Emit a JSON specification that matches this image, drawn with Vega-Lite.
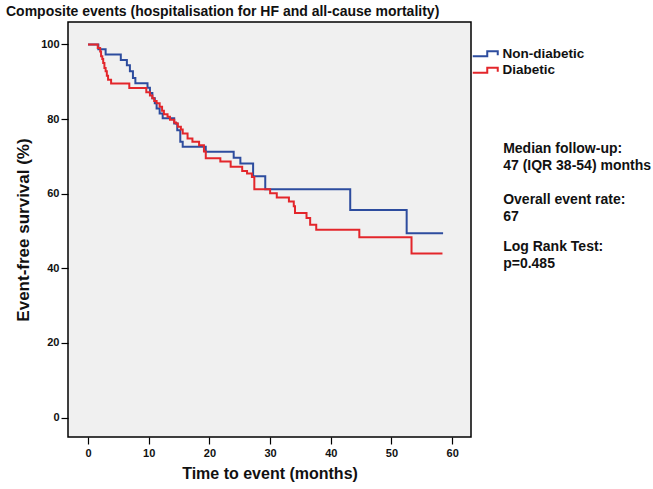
{
  "$schema": "https://vega.github.io/schema/vega-lite/v6.json",
  "width": 403,
  "height": 415,
  "autosize": {"type": "none"},
  "padding": {"left": 68, "top": 22, "right": 182, "bottom": 52},
  "background": "white",
  "title": {
    "text": "Composite events (hospitalisation for HF and all-cause mortality)",
    "anchor": "start",
    "frame": "group",
    "dx": -62,
    "offset": 6,
    "dy": 14,
    "baseline": "alphabetic",
    "font": "Liberation Sans",
    "fontSize": 14,
    "fontWeight": "bold",
    "color": "#111111"
  },
  "config": {
    "view": {"fill": "#f0f0f0", "stroke": "#000000", "strokeWidth": 1.5},
    "axis": {
      "domain": false,
      "grid": false,
      "tickSize": 7,
      "tickColor": "#000000",
      "tickWidth": 1.2,
      "labelFont": "Liberation Sans",
      "labelFontSize": 11,
      "labelFontWeight": "bold",
      "labelColor": "#111111",
      "titleFont": "Liberation Sans",
      "titleFontWeight": "bold",
      "titleColor": "#111111"
    }
  },
  "layer": [
    {
      "data": {
        "values": [
          {"group": "Non-diabetic", "time": 0, "survival": 100},
          {"group": "Non-diabetic", "time": 1.7, "survival": 98.7},
          {"group": "Non-diabetic", "time": 2.9, "survival": 97.3},
          {"group": "Non-diabetic", "time": 5.4, "survival": 95.8},
          {"group": "Non-diabetic", "time": 6.4, "survival": 94.4},
          {"group": "Non-diabetic", "time": 6.9, "survival": 92.8},
          {"group": "Non-diabetic", "time": 7.4, "survival": 91.0},
          {"group": "Non-diabetic", "time": 7.8, "survival": 89.6},
          {"group": "Non-diabetic", "time": 9.8, "survival": 88.4},
          {"group": "Non-diabetic", "time": 10.2, "survival": 87.0},
          {"group": "Non-diabetic", "time": 10.6, "survival": 85.6},
          {"group": "Non-diabetic", "time": 11.0, "survival": 84.2},
          {"group": "Non-diabetic", "time": 11.3, "survival": 82.8},
          {"group": "Non-diabetic", "time": 11.8, "survival": 81.5},
          {"group": "Non-diabetic", "time": 12.3, "survival": 80.2},
          {"group": "Non-diabetic", "time": 14.2, "survival": 78.8},
          {"group": "Non-diabetic", "time": 14.7, "survival": 77.0},
          {"group": "Non-diabetic", "time": 15.2, "survival": 73.9},
          {"group": "Non-diabetic", "time": 15.6, "survival": 72.6},
          {"group": "Non-diabetic", "time": 19.4, "survival": 71.2},
          {"group": "Non-diabetic", "time": 24.0, "survival": 69.6},
          {"group": "Non-diabetic", "time": 25.1, "survival": 68.1},
          {"group": "Non-diabetic", "time": 27.2, "survival": 64.7},
          {"group": "Non-diabetic", "time": 29.2, "survival": 61.2},
          {"group": "Non-diabetic", "time": 43.2, "survival": 55.6},
          {"group": "Non-diabetic", "time": 52.5, "survival": 49.4},
          {"group": "Non-diabetic", "time": 58.5, "survival": 49.4},
          {"group": "Diabetic", "time": 0, "survival": 100},
          {"group": "Diabetic", "time": 1.6, "survival": 99.0},
          {"group": "Diabetic", "time": 2.0, "survival": 98.1},
          {"group": "Diabetic", "time": 2.15, "survival": 96.8},
          {"group": "Diabetic", "time": 2.35, "survival": 96.1},
          {"group": "Diabetic", "time": 2.5, "survival": 95.0},
          {"group": "Diabetic", "time": 2.7, "survival": 93.7},
          {"group": "Diabetic", "time": 2.9, "survival": 92.8},
          {"group": "Diabetic", "time": 3.1, "survival": 91.6},
          {"group": "Diabetic", "time": 3.3, "survival": 90.5},
          {"group": "Diabetic", "time": 3.8, "survival": 89.5},
          {"group": "Diabetic", "time": 6.8, "survival": 88.3},
          {"group": "Diabetic", "time": 9.6, "survival": 87.2},
          {"group": "Diabetic", "time": 10.2, "survival": 86.3},
          {"group": "Diabetic", "time": 10.6, "survival": 85.6},
          {"group": "Diabetic", "time": 10.9, "survival": 84.8},
          {"group": "Diabetic", "time": 11.3, "survival": 84.2},
          {"group": "Diabetic", "time": 11.8, "survival": 83.3},
          {"group": "Diabetic", "time": 12.2, "survival": 82.2},
          {"group": "Diabetic", "time": 12.5, "survival": 81.3},
          {"group": "Diabetic", "time": 13.1, "survival": 80.6},
          {"group": "Diabetic", "time": 13.5, "survival": 79.8},
          {"group": "Diabetic", "time": 14.2, "survival": 79.1},
          {"group": "Diabetic", "time": 14.5, "survival": 78.8},
          {"group": "Diabetic", "time": 14.8, "survival": 77.9},
          {"group": "Diabetic", "time": 15.3, "survival": 77.2},
          {"group": "Diabetic", "time": 15.6, "survival": 76.1},
          {"group": "Diabetic", "time": 16.4, "survival": 74.8},
          {"group": "Diabetic", "time": 17.2, "survival": 73.9},
          {"group": "Diabetic", "time": 18.3, "survival": 73.0},
          {"group": "Diabetic", "time": 19.1, "survival": 71.3},
          {"group": "Diabetic", "time": 19.4, "survival": 69.5},
          {"group": "Diabetic", "time": 21.8, "survival": 68.6},
          {"group": "Diabetic", "time": 23.5, "survival": 67.2},
          {"group": "Diabetic", "time": 25.4, "survival": 66.1},
          {"group": "Diabetic", "time": 26.2, "survival": 65.4},
          {"group": "Diabetic", "time": 27.0, "survival": 64.5},
          {"group": "Diabetic", "time": 27.4, "survival": 61.2},
          {"group": "Diabetic", "time": 30.0, "survival": 60.1},
          {"group": "Diabetic", "time": 31.1, "survival": 59.0},
          {"group": "Diabetic", "time": 33.1, "survival": 57.9},
          {"group": "Diabetic", "time": 33.9, "survival": 56.6},
          {"group": "Diabetic", "time": 34.1, "survival": 54.8},
          {"group": "Diabetic", "time": 36.0, "survival": 53.5},
          {"group": "Diabetic", "time": 36.6, "survival": 51.7},
          {"group": "Diabetic", "time": 37.6, "survival": 50.3},
          {"group": "Diabetic", "time": 44.7, "survival": 48.3},
          {"group": "Diabetic", "time": 53.3, "survival": 44.0},
          {"group": "Diabetic", "time": 58.4, "survival": 44.0}
        ]
      },
      "mark": {"type": "line", "interpolate": "step-after", "strokeWidth": 2},
      "encoding": {
        "x": {
          "field": "time",
          "type": "quantitative",
          "scale": {"domain": [-3.3, 63.1], "nice": false, "zero": false},
          "axis": {"values": [0, 10, 20, 30, 40, 50, 60], "title": "Time to event (months)", "titleFontSize": 16, "labelPadding": 3, "titlePadding": 7}
        },
        "y": {
          "field": "survival",
          "type": "quantitative",
          "scale": {"domain": [-5.2, 106], "nice": false, "zero": false},
          "axis": {"values": [0, 20, 40, 60, 80, 100], "title": "Event-free survival (%)", "titleFontSize": 17, "labelPadding": 2, "titlePadding": 8}
        },
        "color": {
          "field": "group",
          "type": "nominal",
          "scale": {"domain": ["Non-diabetic", "Diabetic"], "range": ["#2d4c9e", "#e3262b"]},
          "legend": {
            "title": null,
            "orient": "none",
            "legendX": 411,
            "legendY": 25,
            "symbolType": "M-2.6,0.5H0.3V-0.5H2.4V0.3",
            "symbolSize": 100,
            "symbolStrokeWidth": 2,
            "symbolFillColor": "transparent",
            "labelOffset": 10,
            "labelFont": "Liberation Sans",
            "labelFontSize": 13.5,
            "labelFontWeight": "bold",
            "labelColor": "#111111",
            "rowPadding": 1.5
          }
        },
        "order": {"field": "time", "type": "quantitative"}
      }
    },
    {
      "data": {"values": [{"note": "Median follow-up:\n47 (IQR 38-54) months"}]},
      "mark": {"type": "text", "align": "left", "baseline": "alphabetic", "lineBreak": "\n", "lineHeight": 17, "font": "Liberation Sans", "fontSize": 14, "fontWeight": "bold", "color": "#111111"},
      "encoding": {"x": {"datum": 68.4, "type": "quantitative"}, "y": {"datum": 70.8, "type": "quantitative"}, "text": {"field": "note"}}
    },
    {
      "data": {"values": [{"note": "Overall event rate:\n67"}]},
      "mark": {"type": "text", "align": "left", "baseline": "alphabetic", "lineBreak": "\n", "lineHeight": 17, "font": "Liberation Sans", "fontSize": 14, "fontWeight": "bold", "color": "#111111"},
      "encoding": {"x": {"datum": 68.4, "type": "quantitative"}, "y": {"datum": 57.2, "type": "quantitative"}, "text": {"field": "note"}}
    },
    {
      "data": {"values": [{"note": "Log Rank Test:\np=0.485"}]},
      "mark": {"type": "text", "align": "left", "baseline": "alphabetic", "lineBreak": "\n", "lineHeight": 17, "font": "Liberation Sans", "fontSize": 14, "fontWeight": "bold", "color": "#111111"},
      "encoding": {"x": {"datum": 68.4, "type": "quantitative"}, "y": {"datum": 44.7, "type": "quantitative"}, "text": {"field": "note"}}
    }
  ]
}
